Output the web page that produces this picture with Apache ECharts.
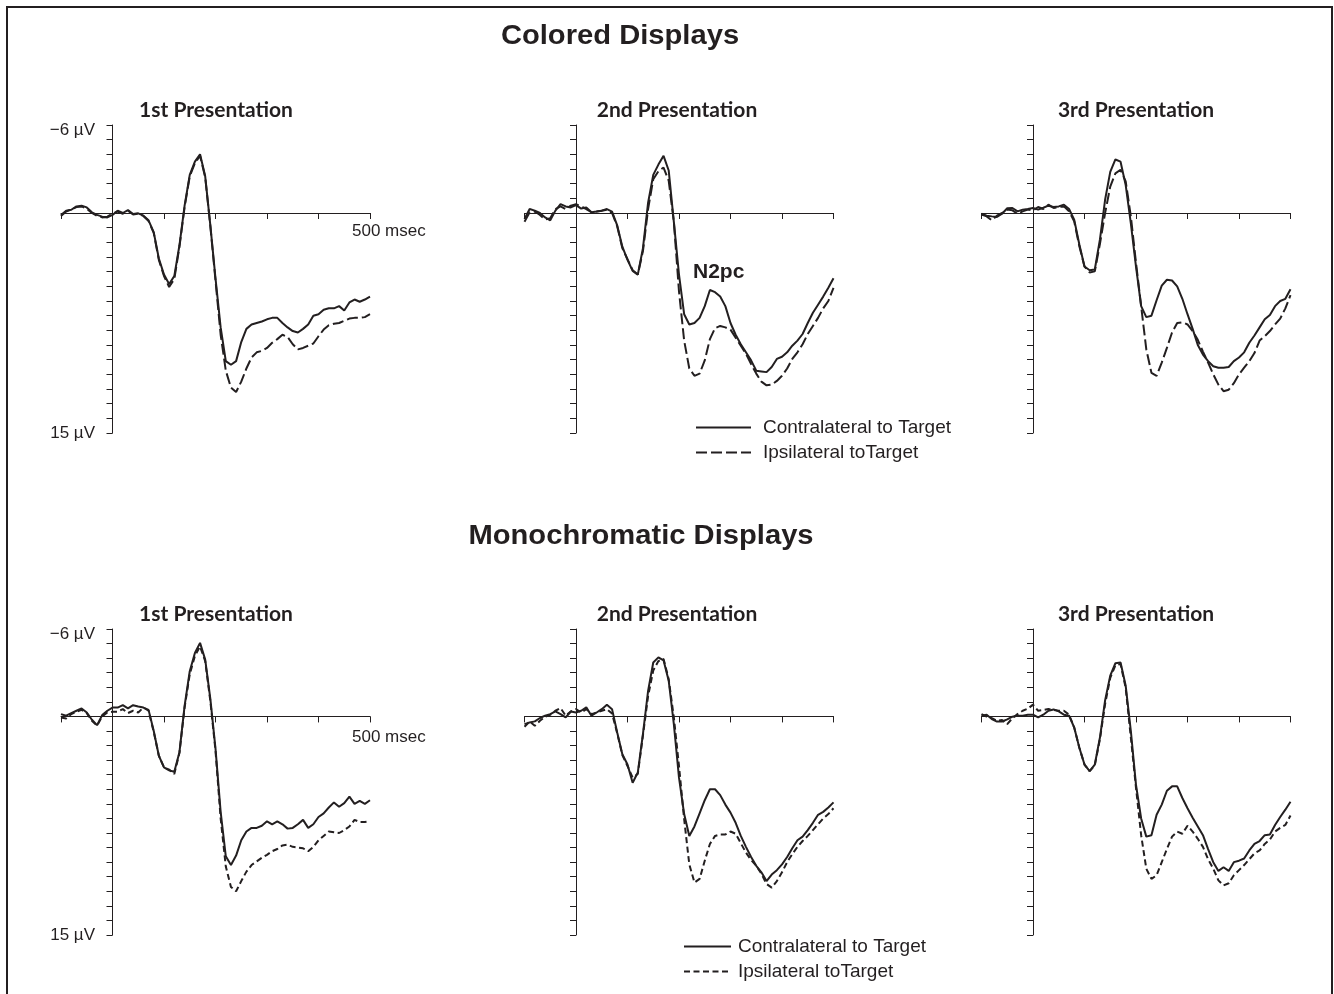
<!DOCTYPE html>
<html>
<head>
<meta charset="utf-8">
<title>Colored and Monochromatic Displays</title>
<script src="https://cdn.jsdelivr.net/npm/echarts@6/dist/echarts.min.js"></script>
<style>
  html, body { margin: 0; padding: 0; background: #fff; }
  #chart { width: 1334px; height: 994px; }
</style>
</head>
<body>
<div id="chart"></div>
<script>
// time points in msec, one every 10 ms
const times = []
for (let t = -100; t <= 500; t += 10) times.push(t)

// amplitudes in µV (negative up)
const colored1Contra = [0.13, -0.16, -0.22, -0.45, -0.5, -0.38, -0.05, 0.13, 0.25, 0.3,
  0.13, -0.16, 0, -0.2, 0.07, 0.02, 0.18, 0.5, 1.3, 3.1,
  4.2, 4.85, 4.3, 2.2, -0.5, -2.6, -3.5, -4.0, -2.5, 0.85,
  4.45, 7.8, 10.1, 10.35, 10.1, 8.8, 7.9, 7.6, 7.5, 7.4,
  7.25, 7.15, 7.15, 7.5, 7.8, 8.05, 8.15, 7.9, 7.6, 7.0,
  6.9, 6.6, 6.5, 6.5, 6.35, 6.65, 6.1, 5.9, 6.05, 5.9, 5.7]
const colored1Ipsi = [0.2, -0.1, -0.25, -0.4, -0.45, -0.3, 0.0, 0.2, 0.3, 0.25,
  0.05, -0.1, 0.05, -0.15, 0.1, 0.05, 0.2, 0.55, 1.35, 3.2,
  4.3, 5.05, 4.5, 2.3, -0.4, -2.5, -3.4, -3.9, -2.45, 0.9,
  4.6, 8.3, 10.75, 11.9, 12.2, 11.5, 10.6, 9.85, 9.5, 9.4,
  9.2, 8.85, 8.6, 8.3, 8.45, 8.95, 9.3, 9.2, 9.05, 8.9,
  8.4, 7.95, 7.65, 7.55, 7.5, 7.35, 7.2, 7.15, 7.15, 7.1, 6.9]
const colored2Contra = [0.4, -0.27, -0.16, 0, 0.3, 0.5, -0.16, -0.6, -0.45, -0.38,
  -0.54, -0.3, -0.38, -0.05, -0.1, -0.16, -0.27, -0.1, 0.85, 2.3,
  3.2, 3.95, 4.2, 2.4, -0.7, -2.6, -3.3, -3.9, -2.9, 0.6,
  4.2, 6.9, 7.6, 7.5, 7.15, 6.35, 5.25, 5.4, 5.7, 6.35,
  7.5, 8.3, 8.95, 9.5, 10.05, 10.75, 10.8, 10.85, 10.5, 9.95,
  9.8, 9.5, 9.05, 8.7, 8.25, 7.5, 6.8, 6.25, 5.7, 5.1, 4.45]
const colored2Ipsi = [0.6, -0.05, -0.1, 0.13, 0.45, 0.35, -0.27, -0.45, -0.27, -0.5,
  -0.6, -0.45, -0.27, -0.05, -0.1, -0.16, -0.22, 0, 0.9, 2.4,
  3.15, 3.9, 4.2, 2.6, -0.27, -2.3, -2.85, -3.1, -2.2, 0.6,
  5.35, 8.7, 10.6, 11.1, 10.95, 10.05, 8.6, 7.85, 7.7, 7.8,
  7.95, 8.5, 9.05, 9.6, 10.3, 10.95, 11.5, 11.75, 11.7, 11.45,
  11.1, 10.6, 9.95, 9.5, 8.95, 8.25, 7.7, 7.15, 6.5, 6.0, 5.1]
const colored3Contra = [0.05, 0.18, 0.23, 0.27, 0.05, -0.32, -0.34, -0.11, -0.23, -0.27,
  -0.34, -0.23, -0.36, -0.5, -0.41, -0.45, -0.57, -0.27, 0.45, 2.15,
  3.65, 3.9, 3.85, 1.8, -0.9, -2.8, -3.65, -3.5, -1.9, 0.7,
  3.65, 6.35, 7.1, 7.0, 5.95, 4.95, 4.55, 4.6, 5.0, 5.85,
  6.9, 7.9, 9.0, 9.65, 10.1, 10.45, 10.55, 10.55, 10.5, 10.1,
  9.85, 9.5, 8.85, 8.35, 7.8, 7.25, 6.95, 6.35, 6.0, 5.85, 5.2]
const colored3Ipsi = [0.11, 0.23, 0.5, 0.18, 0, -0.23, -0.18, 0.05, -0.11, -0.23,
  -0.18, -0.41, -0.27, -0.57, -0.34, -0.41, -0.45, -0.11, 0.57, 2.27,
  3.65, 4.05, 3.98, 2.1, 0, -1.8, -2.7, -2.95, -2.15, 0.23,
  3.4, 6.35, 9.3, 10.9, 11.1, 10.2, 9.2, 8.15, 7.5, 7.45,
  7.6, 8.05, 8.65, 9.45, 10.2, 11.0, 11.7, 12.15, 12.05, 11.6,
  11.0, 10.55, 10.1, 9.55, 8.7, 8.4, 8.05, 7.6, 7.2, 6.5, 5.6]
const mono1Contra = [-0.16, -0.05, -0.23, -0.39, -0.55, -0.27, 0.23, 0.6, -0.09, -0.39,
  -0.61, -0.61, -0.77, -0.55, -0.77, -0.68, -0.61, -0.45, 0.98, 2.7,
  3.5, 3.7, 3.8, 2.45, -0.73, -3.1, -4.35, -5.05, -3.9, -1.2,
  2.2, 6.55, 9.6, 10.2, 9.55, 8.5, 7.9, 7.65, 7.65, 7.5,
  7.2, 7.4, 7.2, 7.4, 7.7, 7.65, 7.4, 7.1, 7.65, 7.4,
  6.9, 6.65, 6.25, 5.9, 6.2, 5.95, 5.5, 6.0, 5.8, 6.0, 5.75]
const mono1Ipsi = [0.07, 0.14, -0.16, -0.32, -0.45, -0.23, 0.3, 0.64, 0, -0.27,
  -0.32, -0.32, -0.5, -0.23, -0.39, -0.27, -0.61, -0.39, 1.05, 2.7,
  3.5, 3.65, 3.95, 2.5, -0.61, -2.9, -4.15, -4.8, -3.8, -1.05,
  2.35, 7.0, 10.3, 11.7, 12.0, 11.3, 10.65, 10.2, 9.95, 9.7,
  9.5, 9.25, 9.1, 8.85, 8.8, 8.95, 9.0, 9.05, 9.25, 8.95,
  8.5, 8.2, 7.9, 7.95, 8.0, 7.8, 7.55, 7.1, 7.25, 7.25, 7.2]
const mono2Contra = [0.53, 0.41, 0.34, 0.11, -0.05, -0.16, -0.34, -0.16, 0.07, -0.34,
  -0.27, -0.39, -0.62, -0.05, -0.27, -0.5, -0.8, -0.5, 1.1, 2.6,
  3.3, 4.55, 3.85, 1.2, -1.75, -3.7, -4.05, -3.85, -2.45, 0.53,
  4.2, 6.7, 8.2, 7.55, 6.65, 5.75, 5.0, 5.0, 5.4, 6.05,
  6.6, 7.3, 8.2, 8.95, 9.65, 10.25, 10.7, 11.3, 10.85, 10.55,
  10.15, 9.65, 9.05, 8.5, 8.25, 7.8, 7.3, 6.75, 6.55, 6.25, 5.9]
const mono2Ipsi = [0.71, 0.34, 0.64, 0.3, 0.02, -0.11, -0.39, -0.57, -0.05, -0.34,
  -0.5, -0.27, -0.5, -0.16, -0.27, -0.39, -0.5, -0.2, 1.15, 2.65,
  3.4, 4.2, 3.95, 1.3, -1.4, -3.15, -3.8, -3.95, -2.55, 0.07,
  3.4, 7.05, 10.15, 11.4, 11.15, 9.9, 8.75, 8.2, 8.1, 8.1,
  7.9, 8.05, 8.7, 9.35, 9.85, 10.25, 10.8, 11.5, 11.75, 11.3,
  10.7, 10.0, 9.45, 8.95, 8.55, 8.2, 7.8, 7.4, 7.0, 6.7, 6.3]
const mono3Contra = [-0.05, -0.12, 0.18, 0.35, 0.35, 0.2, 0.02, -0.05, -0.05, -0.12,
  -0.12, 0.07, -0.12, -0.39, -0.48, -0.35, -0.12, -0.05, 0.76, 2.15,
  3.3, 3.75, 3.3, 1.45, -1.1, -2.8, -3.65, -3.7, -2.1, 1.0,
  4.7, 7.0, 8.25, 8.15, 6.75, 6.05, 5.1, 4.8, 4.8, 5.6,
  6.3, 6.95, 7.55, 8.15, 9.1, 10.0, 10.6, 10.35, 10.6, 10.0,
  9.9, 9.75, 9.2, 8.75, 8.55, 8.15, 8.1, 7.45, 6.9, 6.4, 5.85]
const mono3Ipsi = [-0.16, 0.02, 0.12, 0.3, 0.25, 0.53, 0.12, -0.16, -0.39, -0.53,
  -0.81, -0.39, -0.44, -0.51, -0.44, -0.39, -0.39, -0.12, 0.76, 2.15,
  3.3, 3.75, 3.35, 1.55, -0.85, -2.65, -3.5, -3.6, -1.95, 1.45,
  4.9, 8.15, 10.45, 11.15, 10.9, 10.0, 9.1, 8.25, 7.9, 8.05,
  7.5, 7.9, 8.4, 8.95, 9.8, 10.45, 11.25, 11.6, 11.45, 10.9,
  10.55, 10.2, 9.8, 9.4, 9.2, 8.75, 8.45, 7.9, 7.65, 7.45, 6.8]

const panelTitles = ['1st Presentation', '2nd Presentation', '3rd Presentation']
const seriesNames = ['Contralateral to Target', 'Ipsilateral toTarget']

const INK = '#231f20'
const ARIAL = '"Liberation Sans", Arial, sans-serif'
const TITLE_FONT = 'Lato, "Open Sans", sans-serif'

// layout of the six panels (pixels)
const colLefts = [61, 524.5, 981.5]
const rows = [
  { top: 125, height: 308, dash: [11, 4], data: [[colored1Contra, colored1Ipsi], [colored2Contra, colored2Ipsi], [colored3Contra, colored3Ipsi]] },
  { top: 629, height: 306, dash: [6, 3.5], data: [[mono1Contra, mono1Ipsi], [mono2Contra, mono2Ipsi], [mono3Contra, mono3Ipsi]] }
]

const toPairs = values => times.map((t, i) => [t, values[i]])

const grid = []
const xAxis = []
const yAxis = []
const series = []

rows.forEach((row, r) => {
  colLefts.forEach((left, c) => {
    const idx = grid.length
    grid.push({ left: left, top: row.top, width: 309, height: row.height })
    xAxis.push({
      gridIndex: idx,
      type: 'value',
      min: -100,
      max: 500,
      interval: 100,
      axisLine: { onZero: true, lineStyle: { color: INK, width: 1 } },
      axisTick: { length: 6, lineStyle: { color: INK, width: 1 } },
      axisLabel: { show: false },
      splitLine: { show: false }
    })
    yAxis.push({
      gridIndex: idx,
      type: 'value',
      inverse: true,
      min: -6,
      max: 15,
      interval: 1,
      axisLine: { show: true, onZero: true, lineStyle: { color: INK, width: 1 } },
      axisTick: { show: true, length: 6, lineStyle: { color: INK, width: 1 } },
      axisLabel: {
        show: c === 0,
        // labels stay at the grid edge when the axis sits on zero, so pull them in
        margin: -34,
        color: INK,
        fontFamily: ARIAL,
        fontSize: 17,
        formatter: v => (v === -6 ? '{top|\u22126 \u00b5V}' : v === 15 ? '15 \u00b5V' : ''),
        rich: {
          top: { fontFamily: ARIAL, fontSize: 17, color: INK, padding: [10, 0, 0, 0] }
        }
      },
      splitLine: { show: false }
    })
    row.data[c].forEach((values, k) => {
      series.push({
        name: seriesNames[k],
        type: 'line',
        xAxisIndex: idx,
        yAxisIndex: idx,
        data: toPairs(values),
        symbol: 'none',
        silent: true,
        z: k === 0 ? 3 : 2,
        itemStyle: { color: INK },
        lineStyle: {
          color: INK,
          width: 2,
          type: k === 0 ? 'solid' : row.dash
        }
      })
    })
  })
})

const legendText = { color: INK, fontFamily: ARIAL, fontSize: 19 }
const hiddenSymbol = { color: 'rgba(0,0,0,0)', borderWidth: 0, opacity: 0 }

const graphic = [
  {
    type: 'polyline',
    shape: { points: [[7, 994], [7, 7], [1332, 7], [1332, 994]] },
    style: { stroke: INK, lineWidth: 2, fill: null }
  },
  { type: 'text', x: 620, y: 37, scaleX: 1.08, style: { text: 'Colored Displays', fill: INK, font: 'bold 27px ' + ARIAL, textAlign: 'center', textVerticalAlign: 'middle' } },
  { type: 'text', x: 641, y: 537, scaleX: 1.08, style: { text: 'Monochromatic Displays', fill: INK, font: 'bold 27px ' + ARIAL, textAlign: 'center', textVerticalAlign: 'middle' } },
  { type: 'text', x: 693, y: 272, style: { text: 'N2pc', fill: INK, font: 'bold 21px ' + ARIAL, textAlign: 'left', textVerticalAlign: 'middle' } },
  { type: 'text', x: 352, y: 231, style: { text: '500 msec', fill: INK, font: '17px ' + ARIAL, textAlign: 'left', textVerticalAlign: 'middle' } },
  { type: 'text', x: 352, y: 737, style: { text: '500 msec', fill: INK, font: '17px ' + ARIAL, textAlign: 'left', textVerticalAlign: 'middle' } }
]
const titleCenters = [216, 677, 1136]
;[110, 614].forEach(y => {
  panelTitles.forEach((txt, c) => {
    graphic.push({
      type: 'text',
      x: titleCenters[c],
      y: y,
      style: { text: txt, fill: INK, font: 'bold 21px ' + TITLE_FONT, textAlign: 'center', textVerticalAlign: 'middle' }
    })
  })
})

const chart = echarts.init(document.getElementById('chart'), null, { renderer: 'canvas' })
chart.setOption({
  animation: false,
  backgroundColor: '#ffffff',
  grid: grid,
  xAxis: xAxis,
  yAxis: yAxis,
  legend: [
    {
      left: 695,
      top: 418,
      padding: 0,
      orient: 'vertical',
      itemWidth: 55,
      itemHeight: 14,
      itemGap: 6,
      selectedMode: false,
      itemStyle: hiddenSymbol,
      textStyle: Object.assign({ padding: [0, 0, 0, 7] }, legendText),
      data: [
        { name: seriesNames[0] },
        { name: seriesNames[1], lineStyle: { type: rows[0].dash } }
      ]
    },
    {
      left: 683,
      top: 937,
      padding: 0,
      orient: 'vertical',
      itemWidth: 47,
      itemHeight: 14,
      itemGap: 6,
      selectedMode: false,
      itemStyle: hiddenSymbol,
      textStyle: Object.assign({ padding: [0, 0, 0, 2] }, legendText),
      data: [
        { name: seriesNames[0] },
        { name: seriesNames[1], lineStyle: { type: rows[1].dash } }
      ]
    }
  ],
  graphic: graphic,
  series: series
})
</script>
</body>
</html>
